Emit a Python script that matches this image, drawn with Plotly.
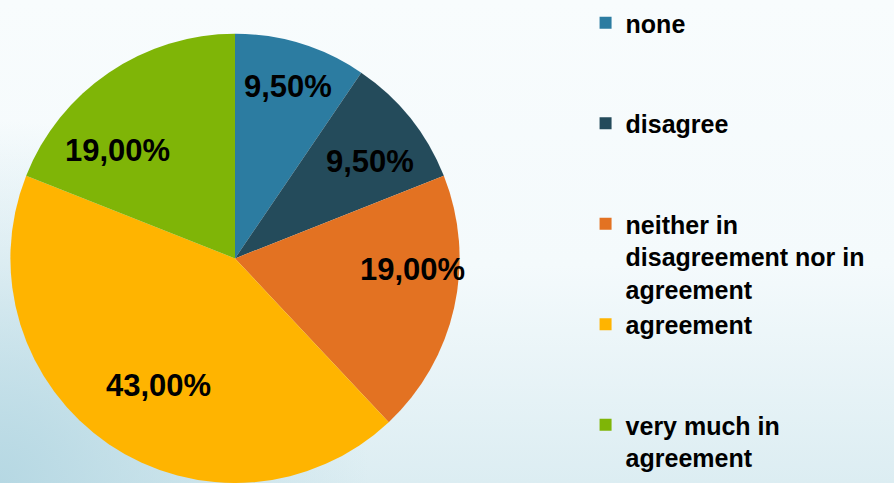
import base64
import math
import plotly.graph_objects as go

categories = ["none", "disagree", "neither in disagreement nor in agreement", "agreement", "very much in agreement"]
legend_labels = [
    "none<br> <br> ",
    "disagree<br> <br> ",
    "neither in<br>disagreement nor in<br>agreement",
    "agreement<br> <br> ",
    "very much in<br>agreement",
]
values = [9.5, 9.5, 19.0, 43.0, 19.0]
colors = ["#2C7CA1", "#244B5B", "#E37222", "#FFB400", "#7FB507"]
label_radius = [0.80, 0.74, 0.79, 0.66, 0.71]  # style: where each label sits, as a fraction of radius
label_angle_shift = [0, 3, -9, -3, -13]  # style: degrees nudge of each label from its slice's mid-angle

W, H = 894, 483
dom_x = [10 / W, 460 / W]
dom_y = [0, 0.93]

svg = """<svg xmlns='http://www.w3.org/2000/svg' width='894' height='483' viewBox='0 0 894 483' preserveAspectRatio='none'>
<defs>
<linearGradient id='v' x1='0' y1='0' x2='0' y2='1'>
<stop offset='0' stop-color='#F8FCFD'/>
<stop offset='0.55' stop-color='#F4FAFC'/>
<stop offset='1' stop-color='#DCEDF2'/>
</linearGradient>
<radialGradient id='r' cx='0' cy='1' r='0.75' gradientUnits='objectBoundingBox' gradientTransform='translate(0,1) scale(0.55,1) translate(0,-1)'>
<stop offset='0' stop-color='#B6D8E3' stop-opacity='1'/>
<stop offset='1' stop-color='#B6D8E3' stop-opacity='0'/>
</radialGradient>
</defs>
<rect width='894' height='483' fill='url(#v)'/>
<rect width='894' height='483' fill='url(#r)'/>
</svg>"""
src = "data:image/svg+xml;base64," + base64.b64encode(svg.encode()).decode()

fig = go.Figure(
    go.Pie(
        labels=legend_labels,
        values=values,
        customdata=categories,
        marker=dict(colors=colors, line=dict(width=0)),
        sort=False,
        direction="clockwise",
        rotation=0,
        textinfo="none",
        hovertemplate="%{customdata}: %{percent:.2%}<extra></extra>",
        domain=dict(x=dom_x, y=dom_y),
    )
)

# percentage labels placed from the data (slice mid-angles)
wpx = (dom_x[1] - dom_x[0]) * W
hpx = (dom_y[1] - dom_y[0]) * H
r_px = min(wpx, hpx) / 2
cx = (dom_x[0] + dom_x[1]) / 2
cy = (dom_y[0] + dom_y[1]) / 2
total = sum(values)
annotations = []
cum = 0.0
for v, rf, shift in zip(values, label_radius, label_angle_shift):
    mid = (cum + v / 2) / total * 360 + shift
    cum += v
    a = math.radians(mid)
    x = cx + rf * r_px * math.sin(a) / W
    y = cy + rf * r_px * math.cos(a) / H
    pct = f"{v / total * 100:.2f}%".replace(".", ",")
    annotations.append(dict(x=x, y=y, xref="paper", yref="paper", xanchor="center", yanchor="middle",
                            text=pct, showarrow=False,
                            font=dict(family="Liberation Sans, Arial", size=31, color="#000000", weight="bold")))

fig.update_layout(
    width=W,
    height=H,
    margin=dict(l=0, r=0, t=0, b=0),
    paper_bgcolor="#F8FCFD",
    separators=", ",
    showlegend=True,
    legend=dict(
        x=0.655,
        xanchor="left",
        y=1.0,
        yanchor="top",
        valign="top",
        bgcolor="rgba(0,0,0,0)",
        font=dict(family="Liberation Sans, Arial", size=25, color="#000000", weight="bold"),
        traceorder="normal",
    ),
    annotations=annotations,
    images=[dict(source=src, xref="paper", yref="paper", x=0, y=1, sizex=1, sizey=1,
                 sizing="stretch", layer="below", xanchor="left", yanchor="top")],
)

fig.write_html("out.html", config={"displayModeBar": False},
               post_script="document.body.style.margin='0';document.body.style.overflow='hidden';")
